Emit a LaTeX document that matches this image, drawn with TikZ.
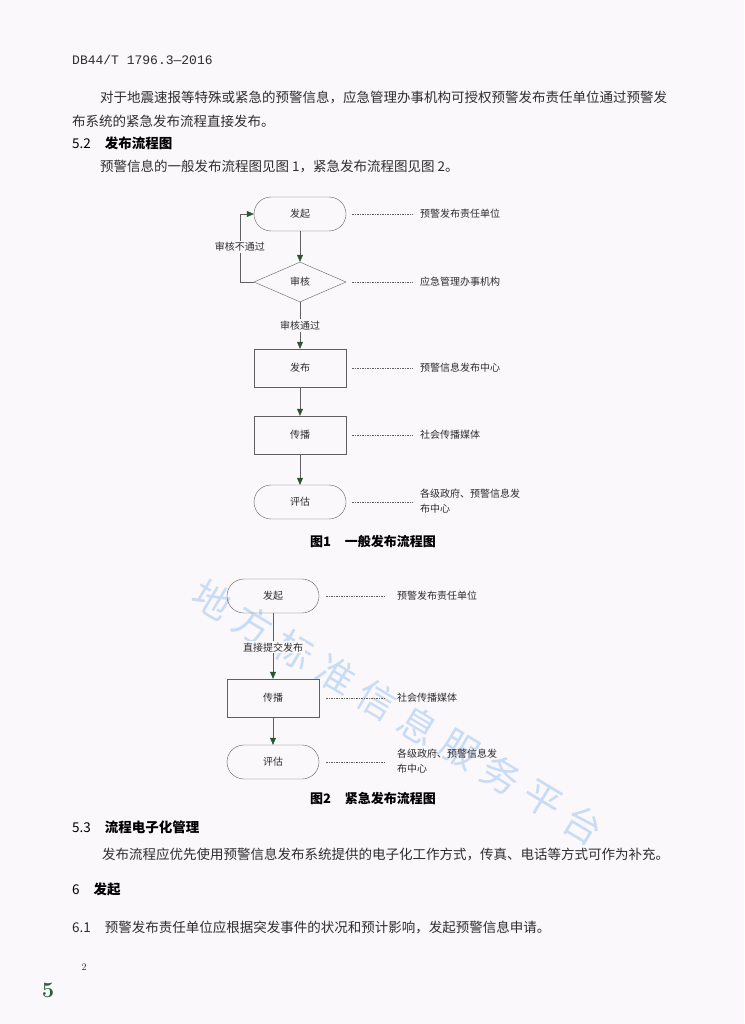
\documentclass[tikz,border=0pt]{standalone}
\usepackage{fontspec}
\newfontfamily\cjk{Noto Sans CJK SC}
\newfontfamily\codefont{Liberation Mono}
\usetikzlibrary{shapes,arrows.meta,positioning,calc}

\definecolor{paper}{RGB}{251,248,251}
\definecolor{ink}{RGB}{45,45,45}
\definecolor{linegray}{RGB}{95,95,95}
\definecolor{tipgreen}{RGB}{40,85,50}
\definecolor{wmblue}{RGB}{200,220,246}
\definecolor{stampgreen}{RGB}{45,95,65}

\newcommand{\secno}[1]{\mdseries #1\hspace{14pt}\bfseries}

\tikzset{
  body/.style={anchor=west, inner sep=0pt, text=ink, font=\cjk\fontsize{13.5}{16}\selectfont},
  head/.style={anchor=west, inner sep=0pt, text=black, font=\cjk\bfseries\fontsize{13.5}{16}\selectfont},
  caption/.style={inner sep=0pt, text=black, font=\cjk\bfseries\fontsize{13}{16}\selectfont},
  term/.style={draw=linegray, rectangle, rounded corners=17pt, minimum width=92pt, minimum height=34pt,
    text=ink, font=\cjk\fontsize{10}{12}\selectfont},
  proc/.style={draw=linegray, rectangle, minimum width=92pt, minimum height=38pt,
    text=ink, font=\cjk\fontsize{10}{12}\selectfont},
  check/.style={draw=linegray, diamond, minimum width=92pt, minimum height=40pt, inner sep=0pt,
    text=ink, font=\cjk\fontsize{10}{12}\selectfont},
  note/.style={anchor=west, inner sep=0pt, align=left, text=ink, font=\cjk\fontsize{10}{15}\selectfont},
  lead/.style={draw=linegray, thin, dash pattern=on 1.5pt off 1pt},
  flow/.style={draw=linegray, thin, -{Triangle[color=tipgreen, length=7pt, width=6pt]}},
  cond/.style={fill=paper, inner sep=1.5pt, text=ink, font=\cjk\fontsize{10}{12}\selectfont},
  wm/.style={text=wmblue, font=\cjk\fontsize{38}{40}\selectfont, rotate=-31}
}

\begin{document}
\begin{tikzpicture}[x=1pt, y=-1pt]
  \fill[paper] (0,0) rectangle (744,1024);
  \useasboundingbox (0,0) rectangle (744,1024);

  % watermark
  \foreach \c [count=\i from 0] in {地,方,标,准,信,息,服,务,平,台}
    \node[wm] at ($(212,600)+\i*(41.3,25)$) {\c};

  % page text above the figures
  \node[anchor=west, inner sep=0pt, text=ink, font=\codefont\fontsize{13}{15}\selectfont] (code) at (72,60) {DB44/T 1796.3—2016};
  \node[body] (p1) at (100,97) {对于地震速报等特殊或紧急的预警信息，应急管理办事机构可授权预警发布责任单位通过预警发};
  \node[body] (p2) at (72,121) {布系统的紧急发布流程直接发布。};
  \node[head] (s52) at (72,143) {\secno{5.2}发布流程图};
  \node[body] (p3) at (100,166) {预警信息的一般发布流程图见图 1，紧急发布流程图见图 2。};

  % figure 1
  \node[term]  (startA) at (300,214) {发起};
  \node[check] (chk)    at (300,282) {审核};
  \node[proc]  (pubA)   at (300,368) {发布};
  \node[proc]  (sprA)   at (300,435) {传播};
  \node[term]  (evalA)  at (300,502) {评估};

  \draw[flow] (startA) -- (chk);
  \draw[flow] (chk) -- node[cond] {审核通过} (pubA);
  \draw[flow] (pubA) -- (sprA);
  \draw[flow] (sprA) -- (evalA);
  \draw[flow] (chk.west) -- ++(-14,0) |- node[cond, pos=0.26] {审核不通过} (startA.west);

  \node[note] (nA1) at (420,214) {预警发布责任单位};
  \node[note] (nA2) at (420,282) {应急管理办事机构};
  \node[note] (nA3) at (420,368) {预警信息发布中心};
  \node[note] (nA4) at (420,435) {社会传播媒体};
  \node[note] (nA5) at (420,501) {各级政府、预警信息发\\布中心};

  \draw[lead] ($(startA.east)+(6,0)$) -- ($(nA1.west)+(-7,0)$);
  \draw[lead] ($(chk.east)+(6,0)$) -- ($(nA2.west)+(-7,0)$);
  \draw[lead] ($(pubA.east)+(6,0)$) -- ($(nA3.west)+(-7,0)$);
  \draw[lead] ($(sprA.east)+(6,0)$) -- ($(nA4.west)+(-7,0)$);
  \draw[lead] ($(evalA.east)+(6,0)$) -- ($(nA5.west |- evalA.east)+(-7,0)$);

  \node[caption] (capA) at (373,542) {图1\hspace{14pt}一般发布流程图};

  % figure 2
  \node[term] (startB) at (273,596) {发起};
  \node[proc] (sprB)   at (273,698) {传播};
  \node[term] (evalB)  at (273,762) {评估};

  \draw[flow] (startB) -- node[cond, pos=0.52] {直接提交发布} (sprB);
  \draw[flow] (sprB) -- (evalB);

  \node[note] (nB1) at (397,596) {预警发布责任单位};
  \node[note] (nB2) at (397,698) {社会传播媒体};
  \node[note] (nB3) at (397,761) {各级政府、预警信息发\\布中心};

  \draw[lead] ($(startB.east)+(7,0)$) -- ($(nB1.west)+(-12,0)$);
  \draw[lead] ($(sprB.east)+(7,0)$) -- ($(nB2.west)+(-12,0)$);
  \draw[lead] ($(evalB.east)+(7,0)$) -- ($(nB3.west |- evalB.east)+(-12,0)$);

  \node[caption] (capB) at (373,798) {图2\hspace{14pt}紧急发布流程图};

  % page text below the figures
  \node[head] (s53) at (72,827) {\secno{5.3}流程电子化管理};
  \node[body] (p4) at (102,854) {发布流程应优先使用预警信息发布系统提供的电子化工作方式，传真、电话等方式可作为补充。};
  \node[head] (s6) at (72,889) {\secno{6}发起};
  \node[body] (p5) at (72,927) {6.1\hspace{14pt}预警发布责任单位应根据突发事件的状况和预计影响，发起预警信息申请。};

  \node[inner sep=0pt, text=ink, font=\fontsize{10}{12}\selectfont] (pg) at (84,967) {2};
  \node[inner sep=0pt, text=stampgreen, font=\bfseries\fontsize{22}{24}\selectfont] (mark) at (48,990) {5};
\end{tikzpicture}
\end{document}
